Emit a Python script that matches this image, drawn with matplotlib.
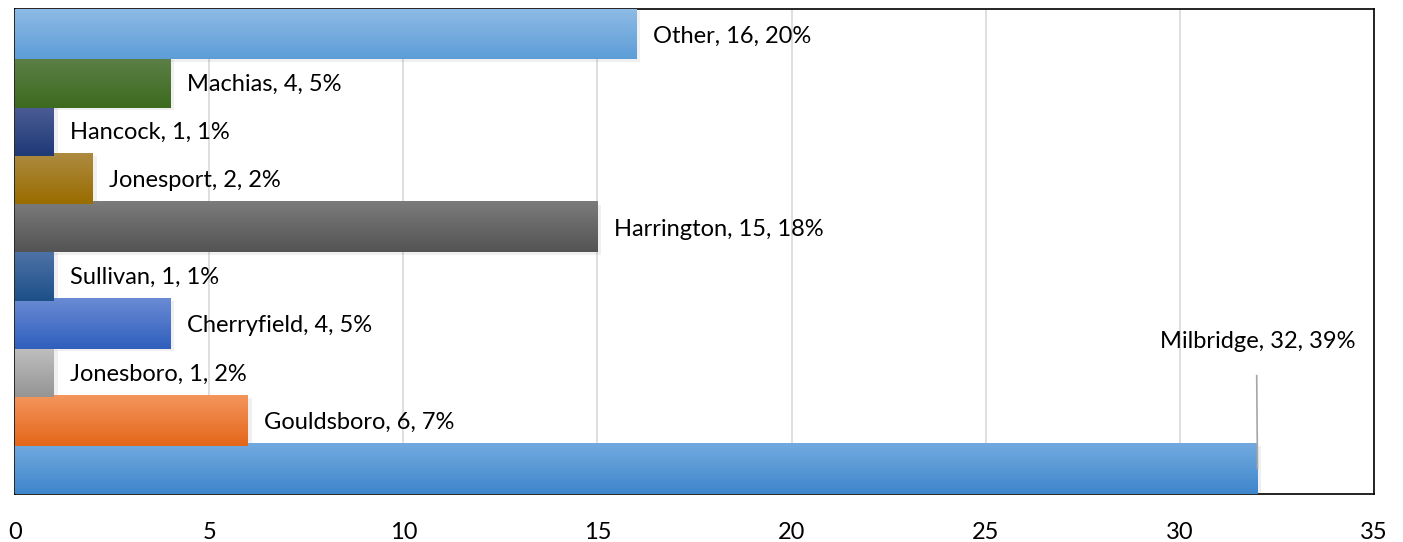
import matplotlib
matplotlib.use("agg")
import matplotlib.pyplot as plt
import numpy as np
from matplotlib.colors import LinearSegmentedColormap

# bottom to top
towns = ["Milbridge", "Gouldsboro", "Jonesboro", "Cherryfield", "Sullivan",
         "Harrington", "Jonesport", "Hancock", "Machias", "Other"]
counts = [32, 6, 1, 4, 1, 15, 2, 1, 4, 16]
pcts = [39, 7, 2, 5, 1, 18, 2, 1, 5, 20]

# (top colour, bottom colour) for gradient fill
grads = [("#72aae0", "#3f86cb"), ("#f4955c", "#e4661a"), ("#c0c0c0", "#959595"),
         ("#6a8bd4", "#2f5fbd"), ("#4f73a8", "#1d5088"), ("#7b7b7b", "#545454"),
         ("#ad8a40", "#9a6d00"), ("#4d5d96", "#1e3a77"), ("#5e8048", "#3c6a1e"),
         ("#8fbbe6", "#5d9dd7")]

plt.rcParams['font.family'] = ['Lato', 'DejaVu Sans']

fig = plt.figure(figsize=(14.03, 5.42), dpi=100)
ax = fig.add_axes([0.0107, 0.0886, 0.9686, 0.8948])

h = 1.04
grad = np.linspace(1, 0, 64).reshape(-1, 1)
for i, (v, (c1, c2)) in enumerate(zip(counts, grads)):
    cmap = LinearSegmentedColormap.from_list("g", [c2, c1])
    # soft shadow
    ax.add_patch(plt.Rectangle((0, i - h / 2 - 0.05), v + 0.1, h,
                               color="#000000", alpha=0.06, lw=0, zorder=2))
    ax.imshow(grad, cmap=cmap, extent=(0, v, i - h / 2, i + h / 2),
              aspect="auto", zorder=3, interpolation="bicubic")
    if towns[i] == "Milbridge":
        ax.text(v, i + 2.63, f"{towns[i]}, {v}, {pcts[i]}%", ha="center",
                va="center", fontsize=17, zorder=5)
        ax.plot([v - 0.02, v], [i + 1.93, i], color="#a6a6a6", lw=1.2, zorder=4)
    else:
        ax.text(v + 0.42, i - 0.04, f"{towns[i]}, {v}, {pcts[i]}%", ha="left",
                va="center", fontsize=17, zorder=5)

ax.set_xlim(0, 35)
ax.set_ylim(-h / 2, 9 + h / 2)
ax.set_xticks(np.arange(0, 36, 5))
ax.set_yticks([])
ax.tick_params(axis="x", length=0, labelsize=17, pad=20)
ax.grid(axis="x", color="#d9d9d9", lw=1.2, zorder=0)
ax.set_axisbelow(True)
for s in ax.spines.values():
    s.set_color("black")
    s.set_linewidth(1.2)

plt.savefig("out.png", dpi=100)
